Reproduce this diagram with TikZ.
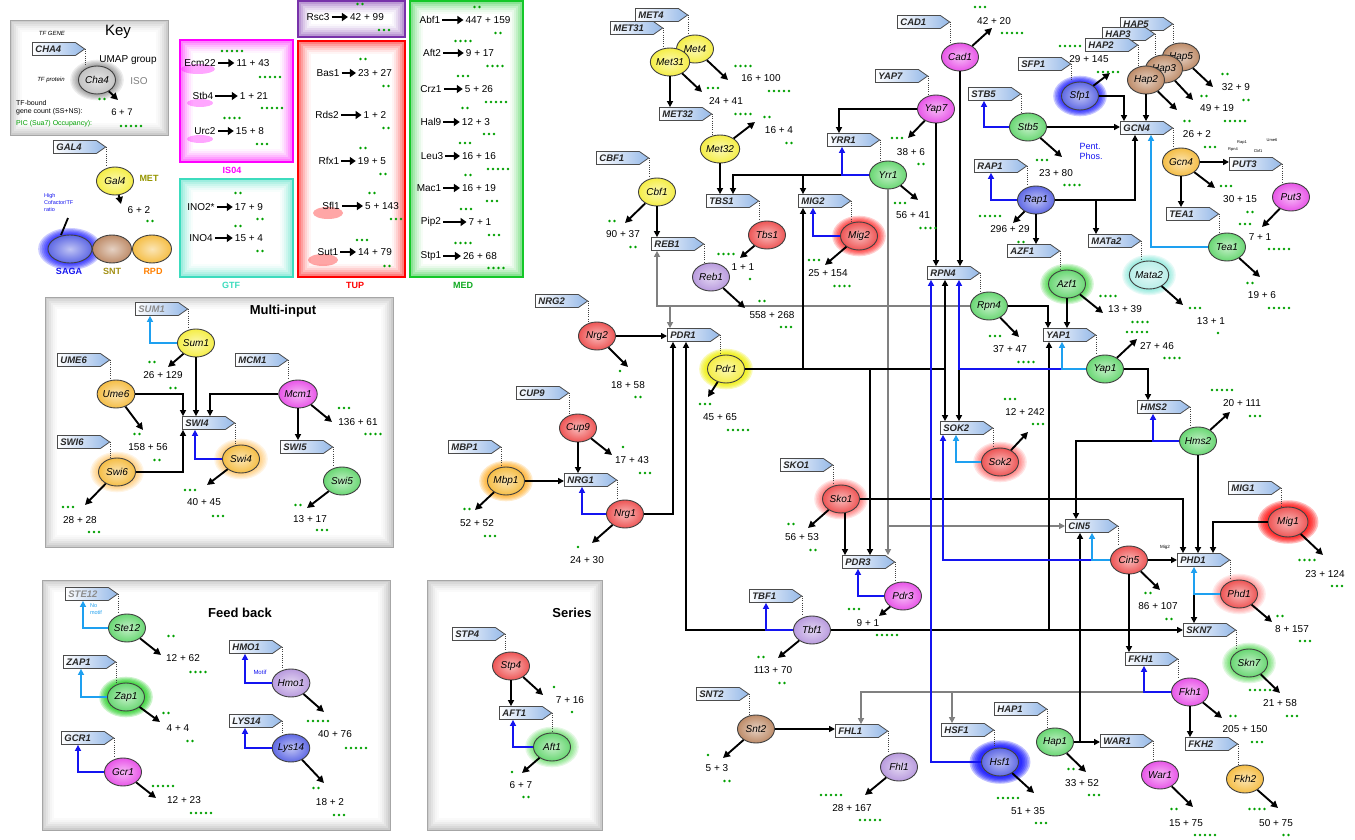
\documentclass[tikz,border=0pt]{standalone}
\usepackage{fontspec}
\setmainfont{Liberation Sans}
\usetikzlibrary{shapes.symbols,shapes.geometric,arrows.meta}
\definecolor{tagblue}{RGB}{150,185,232}
\definecolor{cY}{RGB}{245,238,70}
\definecolor{cR}{RGB}{238,85,85}
\definecolor{cG}{RGB}{105,215,115}
\definecolor{cM}{RGB}{232,85,232}
\definecolor{cP}{RGB}{185,155,222}
\definecolor{cB}{RGB}{95,105,228}
\definecolor{cBr}{RGB}{190,140,105}
\definecolor{cO}{RGB}{245,190,70}
\definecolor{cT}{RGB}{185,238,232}
\definecolor{cK}{RGB}{195,195,195}
\definecolor{lblue}{RGB}{20,20,240}
\definecolor{lcyan}{RGB}{30,160,240}
\definecolor{lgrey}{RGB}{128,128,128}
\definecolor{dotg}{RGB}{0,160,0}
\definecolor{boxmag}{RGB}{255,0,255}
\definecolor{boxteal}{RGB}{60,220,190}
\definecolor{boxred}{RGB}{255,0,0}
\definecolor{boxgreen}{RGB}{20,200,40}
\definecolor{boxpur}{RGB}{120,50,170}
\definecolor{olivet}{RGB}{150,150,0}
\definecolor{gR}{RGB}{255,0,0}
\definecolor{gB}{RGB}{0,0,255}
\definecolor{gG}{RGB}{0,200,0}
\definecolor{gO}{RGB}{255,160,0}
\definecolor{gY}{RGB}{240,240,0}
\definecolor{gT}{RGB}{90,225,205}
\newcommand\gd[3]{\foreach \kk in {1,...,#3}{\fill[dotg] ({#1+(\kk-(#3+1)/2)*5},#2) circle (1.3pt);}}
\newcommand\glow[6]{\foreach \ss in {1.05,1.13,1.21,1.29,1.37,1.45}{\fill[#3,opacity=#4] (#1,#2) circle[x radius={#5*\ss*1pt}, y radius={#6*\ss*1pt}];}}
\newcommand\gpanel[4]{\foreach \ii/\pp in {0/20,2/15,4/11,6/7,8/4,10/2,12/0}{\fill[black!\pp] ({#1+\ii},{#2+\ii}) rectangle ({#3-\ii},{#4-\ii});}\draw[black!35,line width=0.8pt] (#1,#2) rectangle (#3,#4);}
\newcommand\cbox[5]{\foreach \ii/\pp in {1/50,3/38,5/27,7/18,9/10,11/4,13/0}{\fill[#5!\pp!white] ({#1+\ii},{#2+\ii}) rectangle ({#3-\ii},{#4-\ii});}\draw[#5,line width=2.6pt] (#1,#2) rectangle (#3,#4);}
\newcommand\outp[3]{\coordinate (o#1) at (#2,#3); \draw[outa] (#1) -- (o#1);}
\newcommand\nm[4]{\node[numf] (#1) at (#2,#3) {#4};}
\newcommand\brow[6]{\node[boxt] (#1a) at (#2,#4) {#5}; \node[boxt] (#1b) at (#3,#4) {#6}; \draw[barrow] (#1a) -- (#1b);}
\newcommand\dl[2]{\draw[dotl] (#1.east) -- (#1.east |- #2.north);}
\tikzset{
 tag/.style={signal, signal to=east, signal pointer angle=70, draw=black!70, line width=0.8pt, left color=white, right color=tagblue, minimum height=13pt, text width=37pt, inner xsep=3pt, inner ysep=0pt, align=left, anchor=west, text=black!85, font=\fontsize{9.5}{9.5}\selectfont\bfseries\itshape},
 tf/.style={ellipse, draw=black!75, line width=0.9pt, minimum width=37pt, minimum height=28pt, inner sep=0pt, inner color=#1!40!white, outer color=#1, font=\fontsize{10}{10}\selectfont\itshape},
 numf/.style={font=\fontsize{10}{10}\selectfont, inner sep=0.5pt},
 boxt/.style={font=\fontsize{10}{10}\selectfont, inner sep=1pt},
 blk/.style={draw=black, line width=1.6pt, -{Triangle[length=6pt,width=6pt]}},
 ln/.style={draw=black, line width=1.6pt},
 blu/.style={draw=lblue, line width=1.6pt, -{Triangle[length=6pt,width=6pt]}},
 bln/.style={draw=lblue, line width=1.6pt},
 cya/.style={draw=lcyan, line width=1.6pt, -{Triangle[length=6pt,width=6pt]}},
 gry/.style={draw=lgrey, line width=1.4pt, -{Triangle[length=6pt,width=6pt]}},
 grn/.style={draw=lgrey, line width=1.4pt},
 outa/.style={draw=black, line width=1.9pt, -{Triangle[length=7pt,width=7pt]}},
 dotl/.style={draw=black!75, line width=1pt, dash pattern=on 1pt off 1.2pt},
 barrow/.style={draw=black, line width=2.2pt, -{Triangle[length=6pt,width=8pt]}, shorten <=1pt, shorten >=1pt},
 ttl/.style={font=\fontsize{13}{13}\selectfont\bfseries},
 blab/.style={font=\fontsize{9}{9}\selectfont\bfseries}
}
\begin{document}
\begin{tikzpicture}[x=1pt,y=-1pt]
\useasboundingbox (0,0) rectangle (1355,840);
\fill[white] (0,0) rectangle (1355,840);
% ---------- panels
\gpanel{10}{20}{168}{135}
\gpanel{45}{297}{393}{547}
\gpanel{42}{580}{390}{830}
\gpanel{427}{580}{602}{830}
\cbox{298}{1}{405}{37}{boxpur}
\cbox{180}{40}{293}{162}{boxmag}
\cbox{180}{179}{293}{277}{boxteal}
\cbox{298}{41}{405}{277}{boxred}
\cbox{410}{1}{523}{277}{boxgreen}
\fill[boxmag,opacity=0.35] (198,69) ellipse [x radius=17pt, y radius=5pt];
\fill[boxmag,opacity=0.35] (200,103) ellipse [x radius=13pt, y radius=4pt];
\fill[boxmag,opacity=0.35] (200,139) ellipse [x radius=13pt, y radius=4pt];
\fill[boxred,opacity=0.35] (328,213) ellipse [x radius=15pt, y radius=6pt];
\fill[boxred,opacity=0.35] (323,260) ellipse [x radius=15pt, y radius=6pt];
\node[blab, text=boxmag] (lIS) at (232,170) {IS04};
\node[blab, text=boxteal] (lGTF) at (231,285) {GTF};
\node[blab, text=boxred] (lTUP) at (355,285) {TUP};
\node[blab, text=boxgreen!85!black] (lMED) at (463,285) {MED};
% ---------- box rows
\brow{bRsc}{318}{367}{17}{Rsc3}{42 + 99}
\gd{360}{4}{2}\gd{384}{30}{3}
\brow{bEcm}{200}{253}{63}{Ecm22}{11 + 43}
\brow{bStb}{203}{254}{96}{Stb4}{1 + 21}
\brow{bUrc}{205}{250}{131}{Urc2}{15 + 8}
\gd{232}{51}{5}\gd{270}{77}{5}\gd{272}{108}{5}\gd{232}{118}{4}\gd{262}{144}{3}
\brow{bIno2}{201}{249}{207}{INO2*}{17 + 9}
\brow{bIno4}{201}{249}{238}{INO4}{15 + 4}
\gd{238}{193}{2}\gd{260}{219}{2}\gd{238}{226}{2}\gd{260}{251}{2}
\brow{bBas}{328}{375}{73}{Bas1}{23 + 27}
\brow{bRds}{327}{375}{115}{Rds2}{1 + 2}
\brow{bRfx}{329}{372}{161}{Rfx1}{19 + 5}
\brow{bSfl}{331}{382}{206}{Sfl1}{5 + 143}
\brow{bSut}{328}{375}{252}{Sut1}{14 + 79}
\gd{363}{59}{2}\gd{386}{86}{2}\gd{386}{128}{2}\gd{363}{148}{2}\gd{383}{174}{2}\gd{372}{193}{2}\gd{396}{219}{3}\gd{362}{240}{3}\gd{387}{266}{2}
\brow{bAbf}{430}{488}{20}{Abf1}{447 + 159}
\brow{bAft2}{432}{480}{53}{Aft2}{9 + 17}
\brow{bCrz}{431}{479}{89}{Crz1}{5 + 26}
\brow{bHal}{431}{476}{122}{Hal9}{12 + 3}
\brow{bLeu}{432}{479}{156}{Leu3}{16 + 16}
\brow{bMac}{429}{479}{188}{Mac1}{16 + 19}
\brow{bPip}{431}{480}{222}{Pip2}{7 + 1}
\brow{bStp1}{431}{480}{256}{Stp1}{26 + 68}
\gd{477}{7}{2}\gd{498}{33}{2}\gd{463}{41}{4}\gd{495}{66}{4}\gd{463}{76}{3}\gd{496}{102}{5}\gd{465}{108}{2}\gd{489}{134}{3}\gd{465}{143}{3}\gd{498}{169}{5}\gd{468}{175}{2}\gd{492}{201}{3}\gd{466}{209}{3}\gd{494}{235}{3}\gd{463}{243}{4}\gd{496}{268}{4}
% ---------- glows
\glow{97}{80}{black}{0.07}{18.5}{14}
\glow{70}{249}{gB}{0.2}{22}{14.5}
\glow{241}{459}{gO}{0.1}{18.5}{14}
\glow{117}{472}{gO}{0.1}{18.5}{14}
\glow{126}{697}{gG}{0.2}{18.5}{14}
\glow{552}{747}{gG}{0.1}{18.5}{14}
\glow{859}{236}{gR}{0.18}{18.5}{14}
\glow{1080}{96}{gB}{0.22}{18.5}{14}
\glow{1067}{284}{gG}{0.15}{18.5}{14}
\glow{1149}{275}{gT}{0.15}{18.5}{14}
\glow{726}{369}{gY}{0.28}{18.5}{14}
\glow{506}{481}{gO}{0.2}{18.5}{14}
\glow{841}{499}{gR}{0.1}{18.5}{14}
\glow{1000}{462}{gR}{0.1}{18.5}{14}
\glow{1288}{522}{gR}{0.25}{21}{15}
\glow{1239}{594}{gR}{0.08}{18.5}{14}
\glow{1249}{663}{gG}{0.12}{18.5}{14}
\glow{1000}{762}{gB}{0.25}{21}{15}
% ---------- key
\node[font=\fontsize{6}{6}\selectfont\itshape] (kTFG) at (52,33) {TF GENE};
\node[font=\fontsize{15}{15}\selectfont] (kKey) at (118,32) {Key};
\node[tag] (CHA4) at (32,49) {CHA4};
\node[tf=cK] (Cha4) at (97,80) {Cha4};
\dl{CHA4}{Cha4}
\node[font=\fontsize{10}{10}\selectfont] (kUMAP) at (128,60) {UMAP group};
\node[font=\fontsize{10}{10}\selectfont, text=black!50] (kISO) at (139,81) {ISO};
\node[font=\fontsize{6}{6}\selectfont\itshape] (kTFp) at (51,80) {TF protein};
\outp{Cha4}{118}{100}
\gd{102}{99}{2}
\node[font=\fontsize{7}{8}\selectfont, anchor=west, align=left, inner sep=0pt] (kTFb) at (16,108) {TF-bound\\gene count (SS+NS):};
\node[font=\fontsize{9.5}{9.5}\selectfont] (k67) at (122,112) {6 + 7};
\node[font=\fontsize{7}{7}\selectfont, text=dotg, anchor=west, inner sep=0pt] (kPIC) at (16,124) {PIC (Sua7) Occupancy):};
\gd{131}{126}{5}
\node[tag] (GAL4) at (53,147) {GAL4};
\node[tf=cY] (Gal4) at (115,181) {Gal4};
\dl{GAL4}{Gal4}
\node[font=\fontsize{9}{9}\selectfont\bfseries, text=olivet] (kMET) at (149,178) {MET};
\outp{Gal4}{121}{204}
\nm{nGal4}{139}{210}{6 + 2}
\gd{150}{221}{2}
\node[font=\fontsize{5.5}{7}\selectfont, text=lblue, align=left, anchor=north west, inner sep=0pt] (kHigh) at (44,193) {High\\Cofactor/TF\\ratio};
\draw[line width=1.8pt] (68,218) -- (61,235);
\node[tf=cB, minimum width=44pt] (kSAGA) at (70,249) {};
\node[tf=cBr, minimum width=39pt] (kSNT) at (112,249) {};
\node[tf=cO, minimum width=39pt] (kRPD) at (152,249) {};
\node[blab, text=lblue] (kSAGAl) at (69,271) {SAGA};
\node[blab, text=olivet!70!brown] (kSNTl) at (112,271) {SNT};
\node[blab, text=orange] (kRPDl) at (153,271) {RPD};
% ---------- multi-input
\node[ttl] (tMI) at (283,311) {Multi-input};
\node[tag, text=black!45] (SUM1) at (135,309) {SUM1};
\node[tf=cY] (Sum1) at (196,343) {Sum1};
\node[tag] (UME6) at (57,360) {UME6};
\node[tf=cO] (Ume6) at (116,394) {Ume6};
\node[tag] (MCM1) at (235,360) {MCM1};
\node[tf=cM] (Mcm1) at (298,394) {Mcm1};
\node[tag] (SWI4) at (182,423) {SWI4};
\node[tf=cO] (Swi4) at (241,459) {Swi4};
\node[tag] (SWI5) at (280,447) {SWI5};
\node[tf=cG] (Swi5) at (342,481) {Swi5};
\node[tag] (SWI6) at (57,442) {SWI6};
\node[tf=cO] (Swi6) at (117,472) {Swi6};
\dl{SUM1}{Sum1}\dl{UME6}{Ume6}\dl{MCM1}{Mcm1}\dl{SWI4}{Swi4}\dl{SWI5}{Swi5}\dl{SWI6}{Swi6}
\draw[cya] (Sum1.west) -| ([xshift=15pt]SUM1.south west);
\draw[blk] (Sum1.south) -- (Sum1.south |- SWI4.north);
\draw[blk] (Ume6.east) -| ([xshift=1pt]SWI4.north west);
\draw[blk] (Mcm1.west) -| ([xshift=28pt]SWI4.north west);
\draw[blk] (Mcm1.south) -- (Mcm1.south |- SWI5.north);
\draw[blk] (Swi6.east) -| ([xshift=1pt]SWI4.south west);
\draw[blu] (Swi4.west) -| ([xshift=13pt]SWI4.south west);
\outp{Sum1}{168}{367}\outp{Ume6}{143}{430}\outp{Mcm1}{332}{422}\outp{Swi5}{307}{508}\outp{Swi4}{207}{485}\outp{Swi6}{85}{505}
\nm{nSum1}{163}{375}{26 + 129}\gd{152}{362}{2}\gd{173}{388}{2}
\nm{nUme6}{148}{447}{158 + 56}\gd{137}{434}{2}\gd{157}{460}{2}
\nm{nMcm1}{358}{422}{136 + 61}\gd{344}{408}{3}\gd{373}{434}{4}
\nm{nSwi5}{310}{519}{13 + 17}\gd{298}{505}{2}\gd{322}{530}{3}
\nm{nSwi4}{204}{502}{40 + 45}\gd{190}{490}{3}\gd{218}{516}{3}
\nm{nSwi6}{80}{520}{28 + 28}\gd{68}{507}{3}\gd{94}{532}{3}
% ---------- feedback
\node[ttl] (tFB) at (240,613) {Feed back};
\node[tag, text=black!45] (STE12) at (65,594) {STE12};
\node[tf=cG] (Ste12) at (127,628) {Ste12};
\node[tag] (ZAP1) at (63,662) {ZAP1};
\node[tf=cG] (Zap1) at (126,697) {Zap1};
\node[tag] (GCR1) at (61,738) {GCR1};
\node[tf=cM] (Gcr1) at (123,772) {Gcr1};
\node[tag] (HMO1) at (229,647) {HMO1};
\node[tf=cP] (Hmo1) at (291,683) {Hmo1};
\node[tag] (LYS14) at (229,721) {LYS14};
\node[tf=cB] (Lys14) at (291,748) {Lys14};
\dl{STE12}{Ste12}\dl{ZAP1}{Zap1}\dl{GCR1}{Gcr1}\dl{HMO1}{Hmo1}\dl{LYS14}{Lys14}
\draw[cya] (Ste12.west) -| ([xshift=18pt]STE12.south west);
\draw[cya] (Zap1.west) -| ([xshift=18pt]ZAP1.south west);
\draw[blu] (Gcr1.west) -| ([xshift=17pt]GCR1.south west);
\draw[blu] (Hmo1.west) -| ([xshift=16pt]HMO1.south west);
\draw[blu] (Lys14.west) -| ([xshift=16pt]LYS14.south west);
\node[font=\fontsize{5.5}{6.5}\selectfont, text=lcyan, align=left, inner sep=0pt] (tNo) at (96,609) {No\\motif};
\node[font=\fontsize{6}{6}\selectfont, text=lblue, inner sep=0pt] (tMotif) at (260,672) {Motif};
\outp{Ste12}{161}{655}\outp{Zap1}{160}{722}\outp{Gcr1}{156}{798}\outp{Hmo1}{324}{712}\outp{Lys14}{324}{783}
\nm{nSte12}{183}{658}{12 + 62}\gd{171}{636}{2}\gd{198}{672}{4}
\nm{nZap1}{178}{728}{4 + 4}\gd{166}{713}{2}\gd{190}{741}{2}
\nm{nGcr1}{184}{800}{12 + 23}\gd{163}{786}{5}\gd{201}{813}{5}
\nm{nHmo1}{335}{734}{40 + 76}\gd{318}{721}{5}\gd{356}{748}{5}
\nm{nLys14}{330}{802}{18 + 2}\gd{316}{788}{2}\gd{339}{815}{3}
% ---------- series
\node[ttl] (tSe) at (572,613) {Series};
\node[tag] (STP4) at (452,634) {STP4};
\node[tf=cR] (Stp4) at (511,666) {Stp4};
\node[tag] (AFT1) at (499,713) {AFT1};
\node[tf=cG] (Aft1) at (552,747) {Aft1};
\dl{STP4}{Stp4}\dl{AFT1}{Aft1}
\draw[blk] (Stp4.south) -- (Stp4.south |- AFT1.north);
\draw[blu] (Aft1.west) -| ([xshift=14pt]AFT1.south west);
\outp{Stp4}{543}{695}\outp{Aft1}{522}{773}
\nm{nStp4}{570}{700}{7 + 16}\gd{554}{687}{1}\gd{572}{712}{1}
\nm{nAft1}{521}{785}{6 + 7}\gd{512}{772}{1}\gd{526}{797}{2}
% ---------- network tags
\node[tag] (MET4) at (635,15) {MET4};
\node[tag] (MET31) at (610,28) {MET31};
\node[tag] (MET32) at (659,114) {MET32};
\node[tag] (CBF1) at (596,158) {CBF1};
\node[tag] (REB1) at (651,244) {REB1};
\node[tag] (TBS1) at (706,201) {TBS1};
\node[tag] (MIG2) at (798,201) {MIG2};
\node[tag] (YRR1) at (827,140) {YRR1};
\node[tag] (YAP7) at (875,76) {YAP7};
\node[tag] (CAD1) at (897,22) {CAD1};
\node[tag] (RPN4) at (927,273) {RPN4};
\node[tag] (STB5) at (968,94) {STB5};
\node[tag] (SFP1) at (1018,64) {SFP1};
\node[tag] (HAP5) at (1120,24) {HAP5};
\node[tag] (HAP3) at (1102,34) {HAP3};
\node[tag] (HAP2) at (1085,45) {HAP2};
\node[tag] (GCN4) at (1120,128) {GCN4};
\node[tag] (PUT3) at (1229,164) {PUT3};
\node[tag] (TEA1) at (1166,214) {TEA1};
\node[tag] (RAP1) at (974,166) {RAP1};
\node[tag] (AZF1) at (1007,251) {AZF1};
\node[tag] (MATa2) at (1088,241) {MATa2};
\node[tag] (NRG2) at (535,301) {NRG2};
\node[tag] (PDR1) at (667,335) {PDR1};
\node[tag] (CUP9) at (516,393) {CUP9};
\node[tag] (MBP1) at (448,447) {MBP1};
\node[tag] (NRG1) at (564,480) {NRG1};
\node[tag] (YAP1) at (1043,335) {YAP1};
\node[tag] (SOK2) at (940,428) {SOK2};
\node[tag] (HMS2) at (1137,407) {HMS2};
\node[tag] (SKO1) at (780,465) {SKO1};
\node[tag] (CIN5) at (1065,526) {CIN5};
\node[tag] (MIG1) at (1228,488) {MIG1};
\node[tag] (PHD1) at (1177,560) {PHD1};
\node[tag] (PDR3) at (842,562) {PDR3};
\node[tag] (TBF1) at (749,596) {TBF1};
\node[tag] (SKN7) at (1183,630) {SKN7};
\node[tag] (FKH1) at (1125,659) {FKH1};
\node[tag] (SNT2) at (696,694) {SNT2};
\node[tag] (HAP1) at (994,709) {HAP1};
\node[tag] (FHL1) at (835,731) {FHL1};
\node[tag] (HSF1) at (941,730) {HSF1};
\node[tag] (WAR1) at (1100,741) {WAR1};
\node[tag] (FKH2) at (1185,744) {FKH2};
% ---------- network TFs
\node[tf=cY] (Met4) at (695,49) {Met4};
\node[tf=cY] (Met31) at (670,62) {Met31};
\node[tf=cY] (Met32) at (720,149) {Met32};
\node[tf=cY] (Cbf1) at (657,192) {Cbf1};
\node[tf=cP] (Reb1) at (711,277) {Reb1};
\node[tf=cR] (Tbs1) at (767,235) {Tbs1};
\node[tf=cR] (Mig2) at (859,236) {Mig2};
\node[tf=cG] (Yrr1) at (888,175) {Yrr1};
\node[tf=cM] (Yap7) at (936,109) {Yap7};
\node[tf=cM] (Cad1) at (960,57) {Cad1};
\node[tf=cG] (Rpn4) at (989,306) {Rpn4};
\node[tf=cG] (Stb5) at (1028,127) {Stb5};
\node[tf=cB] (Sfp1) at (1080,96) {Sfp1};
\node[tf=cBr] (Hap5) at (1181,57) {Hap5};
\node[tf=cBr] (Hap3) at (1164,69) {Hap3};
\node[tf=cBr] (Hap2) at (1146,80) {Hap2};
\node[tf=cO] (Gcn4) at (1181,162) {Gcn4};
\node[tf=cM] (Put3) at (1291,197) {Put3};
\node[tf=cG] (Tea1) at (1227,247) {Tea1};
\node[tf=cB] (Rap1) at (1036,200) {Rap1};
\node[tf=cG] (Azf1) at (1067,284) {Azf1};
\node[tf=cT] (Mata2) at (1149,275) {Mata2};
\node[tf=cR] (Nrg2) at (597,336) {Nrg2};
\node[tf=cY] (Pdr1) at (726,369) {Pdr1};
\node[tf=cR] (Cup9) at (578,428) {Cup9};
\node[tf=cO] (Mbp1) at (506,481) {Mbp1};
\node[tf=cR] (Nrg1) at (625,514) {Nrg1};
\node[tf=cG] (Yap1) at (1105,369) {Yap1};
\node[tf=cR] (Sok2) at (1000,462) {Sok2};
\node[tf=cG] (Hms2) at (1198,441) {Hms2};
\node[tf=cR] (Sko1) at (841,499) {Sko1};
\node[tf=cR] (Cin5) at (1129,560) {Cin5};
\node[tf=cR, minimum width=40pt, minimum height=30pt] (Mig1) at (1288,522) {Mig1};
\node[tf=cR] (Phd1) at (1239,594) {Phd1};
\node[tf=cM] (Pdr3) at (903,596) {Pdr3};
\node[tf=cP] (Tbf1) at (812,630) {Tbf1};
\node[tf=cG] (Skn7) at (1249,663) {Skn7};
\node[tf=cM] (Fkh1) at (1190,692) {Fkh1};
\node[tf=cBr] (Snt2) at (756,729) {Snt2};
\node[tf=cG] (Hap1) at (1055,742) {Hap1};
\node[tf=cP] (Fhl1) at (899,767) {Fhl1};
\node[tf=cB] (Hsf1) at (1000,762) {Hsf1};
\node[tf=cM] (War1) at (1160,775) {War1};
\node[tf=cO] (Fkh2) at (1245,779) {Fkh2};
% dotted tag-protein links
\dl{MET4}{Met4}\dl{MET31}{Met31}\dl{MET32}{Met32}\dl{CBF1}{Cbf1}\dl{REB1}{Reb1}\dl{TBS1}{Tbs1}\dl{MIG2}{Mig2}\dl{YRR1}{Yrr1}\dl{YAP7}{Yap7}\dl{CAD1}{Cad1}\dl{RPN4}{Rpn4}\dl{STB5}{Stb5}\dl{SFP1}{Sfp1}\dl{HAP5}{Hap5}\dl{HAP3}{Hap3}\dl{HAP2}{Hap2}\dl{GCN4}{Gcn4}\dl{PUT3}{Put3}\dl{TEA1}{Tea1}\dl{RAP1}{Rap1}\dl{AZF1}{Azf1}\dl{MATa2}{Mata2}\dl{NRG2}{Nrg2}\dl{PDR1}{Pdr1}\dl{CUP9}{Cup9}\dl{MBP1}{Mbp1}\dl{NRG1}{Nrg1}\dl{YAP1}{Yap1}\dl{SOK2}{Sok2}\dl{HMS2}{Hms2}\dl{SKO1}{Sko1}\dl{CIN5}{Cin5}\dl{MIG1}{Mig1}\dl{PHD1}{Phd1}\dl{PDR3}{Pdr3}\dl{TBF1}{Tbf1}\dl{SKN7}{Skn7}\dl{FKH1}{Fkh1}\dl{SNT2}{Snt2}\dl{HAP1}{Hap1}\dl{FHL1}{Fhl1}\dl{HSF1}{Hsf1}\dl{WAR1}{War1}\dl{FKH2}{Fkh2}
% ---------- grey connectors
\draw[gry] (Rpn4.west) -| ([xshift=6pt]REB1.south west);
\draw[gry] ([xshift=3pt]PDR1.north west |- Rpn4.west) -- ([xshift=3pt]PDR1.north west);
\draw[gry] (Yrr1.south) -- (Yrr1.south |- PDR3.north);
\draw[gry] ([xshift=46pt]PDR3.north west |- CIN5.west) -- (CIN5.west);
\draw[gry] ([xshift=19pt]FKH1.south west |- Fkh1.west) -| ([xshift=26pt]FHL1.north west);
\draw[gry] ([xshift=11pt]HSF1.north west |- Fkh1.west) -- ([xshift=11pt]HSF1.north west);
% ---------- black connectors
\draw[blk] (Met31.south) -- (Met31.south |- MET32.north);
\draw[blk] (Met32.south) -- (Met32.south |- TBS1.north);
\draw[blk] (Cbf1.south) -- (Cbf1.south |- REB1.north);
\draw[blk] ([xshift=15pt]YRR1.south west |- Yrr1.west) -| ([xshift=27pt]TBS1.north west);
\draw[blk] ([xshift=5pt]MIG2.north west |- Yrr1.west) -- ([xshift=5pt]MIG2.north west);
\draw[blk] (Yap7.west) -| ([xshift=12pt]YRR1.north west);
\draw[blk] (Yap7.south) -- (Yap7.south |- RPN4.north);
\draw[blk] (Cad1.south) -- (Cad1.south |- RPN4.north);
\draw[blk] (Stb5.east) -- (Stb5.east -| GCN4.west);
\draw[blk] (Sfp1.east) -| ([xshift=4pt]GCN4.north west);
\draw[blk] (Hap2.south) -- (Hap2.south |- GCN4.north);
\draw[blk] (Rap1.east) -| ([xshift=15pt]GCN4.south west);
\draw[blk] ([xshift=8pt]MATa2.north west |- Rap1.east) -- ([xshift=8pt]MATa2.north west);
\draw[blk] (Rap1.south) -- (Rap1.south |- AZF1.north);
\draw[blk] (Gcn4.east) -- (Gcn4.east -| PUT3.west);
\draw[blk] (Gcn4.south) -- (Gcn4.south |- TEA1.north);
\draw[blk] (Azf1.south) -- (Azf1.south |- YAP1.north);
\draw[blk] (Rpn4.east) -| ([xshift=5pt]YAP1.north west);
\draw[blk] (Yap1.east) -| ([xshift=11pt]HMS2.north west);
\draw[blk] (Hms2.south) -- (Hms2.south |- PHD1.north);
\draw[blk] ([xshift=16pt]HMS2.south west |- Hms2.west) -| ([xshift=11pt]CIN5.north west);
\draw[blk] (Mig1.west) -| ([xshift=36pt]PHD1.north west);
\draw[blk] (Sko1.east) -| ([xshift=6pt]PHD1.north west);
\draw[blk] (Cin5.east) -- (Cin5.east -| PHD1.west);
\draw[blk] (Cin5.south) -- (Cin5.south |- FKH1.north);
\draw[blk] ([xshift=17pt]PHD1.south west |- Phd1.west) -- ([xshift=11pt]SKN7.north west);
\draw[blk] (Tbf1.east) -- (Tbf1.east -| SKN7.west);
\draw[blk] ([xshift=17pt]TBF1.south west |- Tbf1.west) -| ([xshift=19pt]PDR1.south west);
\draw[blk] ([xshift=6pt]YAP1.south west |- Tbf1.east) -- ([xshift=6pt]YAP1.south west);
\draw[blk] (Fkh1.south) -- (Fkh1.south |- FKH2.north);
\draw[blk, line width=2.2pt] (Snt2.east) -- (Snt2.east -| FHL1.west);
\draw[blk] (Hap1.east) -- (Hap1.east -| WAR1.west);
\draw[blk] ([xshift=15pt]CIN5.south west |- Hap1.east) -- ([xshift=15pt]CIN5.south west);
\draw[blk] (Nrg2.east) -- (Nrg2.east -| PDR1.west);
\draw[blk] (Nrg1.east) -| ([xshift=6pt]PDR1.south west);
\draw[blk] (Cup9.south) -- (Cup9.south |- NRG1.north);
\draw[blk] (Mbp1.east) -- (Mbp1.east -| NRG1.west);
\draw[ln] (Pdr1.east) -- ([xshift=18pt]RPN4.south west |- Pdr1.east);
\draw[blk] ([xshift=18pt]RPN4.south west |- Pdr1.east) -- ([xshift=18pt]RPN4.south west);
\draw[blk] ([xshift=5pt]SOK2.north west |- Pdr1.east) -- ([xshift=5pt]SOK2.north west);
\draw[blk] ([xshift=5pt]MIG2.south west |- Pdr1.east) -- ([xshift=5pt]MIG2.south west);
\draw[blk] ([xshift=28pt]PDR3.north west |- Pdr1.east) -- ([xshift=28pt]PDR3.north west);
\draw[blk] ([xshift=3pt]PDR3.north west |- Sko1.south) -- ([xshift=3pt]PDR3.north west);
\draw[blk] ([xshift=32pt]RPN4.south west |- Yap1.west) -- ([xshift=19pt]SOK2.north west);
% ---------- blue / cyan connectors
\draw[blu] (Mig2.west) -| ([xshift=15pt]MIG2.south west);
\draw[blu] (Yrr1.west) -| ([xshift=15pt]YRR1.south west);
\draw[blu] (Stb5.west) -| ([xshift=16pt]STB5.south west);
\draw[blu] (Rap1.west) -| ([xshift=17pt]RAP1.south west);
\draw[blu] ([xshift=19pt]YAP1.south west |- Yap1.west) -| ([xshift=32pt]RPN4.south west);
\draw[blu] (Hsf1.west) -| ([xshift=4pt]RPN4.south west);
\draw[blu] ([xshift=27pt]CIN5.south west |- Cin5.west) -| ([xshift=3pt]SOK2.south west);
\draw[blu] (Hms2.west) -| ([xshift=16pt]HMS2.south west);
\draw[blu] (Fkh1.west) -| ([xshift=19pt]FKH1.south west);
\draw[blu] (Tbf1.west) -| ([xshift=17pt]TBF1.south west);
\draw[blu] (Pdr3.west) -| ([xshift=16pt]PDR3.south west);
\draw[blu] (Nrg1.west) -| ([xshift=18pt]NRG1.south west);
\draw[cya] (Yap1.west) -| ([xshift=19pt]YAP1.south west);
\draw[cya] (Sok2.west) -| ([xshift=16pt]SOK2.south west);
\draw[cya] (Cin5.west) -| ([xshift=27pt]CIN5.south west);
\draw[cya] (Phd1.west) -| ([xshift=17pt]PHD1.south west);
\draw[cya] (Tea1.west) -| ([xshift=31pt]GCN4.south west);
% ---------- small labels
\node[font=\fontsize{9}{10}\selectfont, text=lblue, align=left, inner sep=0pt] (tPent) at (1091,151) {Pent.\\Phos.};
\node[font=\fontsize{4.5}{4.5}\selectfont, inner sep=0pt] (tMig2s) at (1165,547) {Mig2};
\node[font=\fontsize{4}{4}\selectfont, inner sep=0pt] (tRap1s) at (1242,143) {Rap1};
\node[font=\fontsize{4}{4}\selectfont, inner sep=0pt] (tUme6s) at (1272,140) {Ume6};
\node[font=\fontsize{4}{4}\selectfont, inner sep=0pt] (tRpn4s) at (1233,150) {Rpn4};
\node[font=\fontsize{4}{4}\selectfont, inner sep=0pt] (tCbf1s) at (1258,151) {Cbf1};
% ---------- outputs
\outp{Met4}{728}{80}\outp{Met31}{702}{92}\outp{Met32}{755}{122}\outp{Cbf1}{625}{223}\outp{Reb1}{745}{308}\outp{Tbs1}{740}{258}\outp{Mig2}{825}{265}\outp{Yrr1}{918}{200}\outp{Yap7}{908}{138}\outp{Cad1}{992}{28}\outp{Rpn4}{1019}{337}\outp{Stb5}{1062}{157}\outp{Sfp1}{1110}{73}\outp{Hap2}{1177}{110}\outp{Hap3}{1193}{100}\outp{Hap5}{1213}{87}\outp{Gcn4}{1215}{188}\outp{Put3}{1262}{227}\outp{Tea1}{1260}{277}\outp{Rap1}{1013}{223}\outp{Azf1}{1103}{313}\outp{Mata2}{1183}{305}\outp{Nrg2}{628}{367}\outp{Pdr1}{708}{397}\outp{Cup9}{612}{455}\outp{Mbp1}{475}{510}\outp{Nrg1}{592}{543}\outp{Yap1}{1137}{339}\outp{Sok2}{1028}{432}\outp{Hms2}{1230}{412}\outp{Sko1}{808}{528}\outp{Cin5}{1160}{590}\outp{Mig1}{1323}{555}\outp{Phd1}{1272}{622}\outp{Pdr3}{879}{616}\outp{Tbf1}{778}{658}\outp{Skn7}{1280}{693}\outp{Fkh1}{1222}{718}\outp{Snt2}{723}{758}\outp{Hap1}{1086}{772}\outp{Fhl1}{865}{795}\outp{Hsf1}{1034}{793}\outp{War1}{1193}{807}\outp{Fkh2}{1278}{808}
% ---------- counts
\nm{nMet4}{761}{78}{16 + 100}\gd{743}{66}{4}\gd{779}{91}{5}
\nm{nMet31}{726}{101}{24 + 41}\gd{713}{88}{3}\gd{743}{114}{4}
\nm{nMet32}{779}{130}{16 + 4}\gd{767}{117}{2}\gd{789}{143}{2}
\nm{nCbf1}{623}{234}{90 + 37}\gd{612}{221}{2}\gd{633}{247}{2}
\nm{nReb1}{772}{315}{558 + 268}\gd{762}{301}{2}\gd{786}{327}{3}
\nm{nTbs1}{743}{267}{1 + 1}\gd{726}{254}{4}\gd{750}{279}{1}
\nm{nMig2}{828}{273}{25 + 154}\gd{814}{260}{3}\gd{842}{286}{4}
\nm{nYrr1}{913}{215}{56 + 41}\gd{900}{203}{3}\gd{928}{228}{4}
\nm{nYap7}{911}{152}{38 + 6}\gd{897}{138}{3}\gd{921}{164}{2}
\nm{nCad1}{994}{21}{42 + 20}\gd{980}{7}{3}\gd{1012}{33}{5}
\nm{nStb5}{1056}{173}{23 + 80}\gd{1042}{160}{3}\gd{1072}{185}{4}
\nm{nSfp1}{1089}{59}{29 + 145}\gd{1070}{46}{5}\gd{1108}{72}{5}
\nm{nHap2}{1197}{134}{26 + 2}\gd{1187}{121}{2}\gd{1210}{147}{3}
\nm{nHap3}{1217}{108}{49 + 19}\gd{1204}{96}{2}\gd{1235}{121}{5}
\nm{nHap5}{1236}{87}{32 + 9}\gd{1225}{74}{2}\gd{1246}{100}{2}
\nm{nGcn4}{1240}{199}{30 + 15}\gd{1226}{186}{3}\gd{1250}{212}{2}
\nm{nPut3}{1260}{237}{7 + 1}\gd{1245}{224}{3}\gd{1279}{249}{5}
\nm{nTea1}{1262}{295}{19 + 6}\gd{1250}{283}{2}\gd{1279}{308}{5}
\nm{nRap1}{1010}{229}{296 + 29}\gd{990}{216}{5}\gd{1021}{242}{2}
\nm{nAzf1}{1125}{309}{13 + 39}\gd{1108}{296}{4}\gd{1140}{322}{4}
\nm{nMata2}{1211}{321}{13 + 1}\gd{1195}{308}{3}\gd{1218}{333}{1}
\nm{nRpn4}{1010}{349}{37 + 47}\gd{995}{336}{3}\gd{1026}{362}{4}
\nm{nNrg2}{628}{385}{18 + 58}\gd{620}{371}{1}\gd{638}{397}{2}
\nm{nPdr1}{720}{417}{45 + 65}\gd{705}{404}{3}\gd{738}{430}{5}
\nm{nCup9}{632}{460}{17 + 43}\gd{623}{447}{1}\gd{645}{473}{3}
\nm{nMbp1}{477}{523}{52 + 52}\gd{467}{509}{2}\gd{490}{536}{3}
\nm{nNrg1}{587}{560}{24 + 30}\gd{578}{547}{1}
\nm{nYap1}{1157}{346}{27 + 46}\gd{1137}{332}{5}\gd{1172}{358}{4}
\nm{nSok2}{1025}{412}{12 + 242}\gd{1010}{399}{3}\gd{1038}{424}{3}
\nm{nHms2}{1242}{403}{20 + 111}\gd{1222}{390}{5}\gd{1255}{416}{3}
\nm{nSko1}{802}{537}{56 + 53}\gd{791}{524}{2}\gd{813}{550}{2}
\nm{nCin5}{1158}{606}{86 + 107}\gd{1148}{593}{2}\gd{1169}{619}{2}
\nm{nMig1}{1325}{574}{23 + 124}\gd{1307}{560}{4}\gd{1337}{586}{3}
\nm{nPhd1}{1292}{629}{8 + 157}\gd{1280}{616}{2}\gd{1305}{641}{3}
\nm{nPdr3}{868}{623}{9 + 1}\gd{854}{609}{3}\gd{887}{635}{5}
\nm{nTbf1}{773}{670}{113 + 70}\gd{761}{657}{2}\gd{782}{683}{2}
\nm{nSkn7}{1280}{703}{21 + 58}\gd{1260}{690}{5}\gd{1292}{716}{3}
\nm{nFkh1}{1245}{729}{205 + 150}\gd{1233}{716}{2}\gd{1257}{742}{3}
\nm{nSnt2}{717}{768}{5 + 3}\gd{708}{755}{1}\gd{727}{781}{2}
\nm{nHap1}{1082}{783}{33 + 52}\gd{1071}{769}{2}\gd{1094}{795}{3}
\nm{nFhl1}{852}{808}{28 + 167}\gd{831}{795}{5}\gd{870}{820}{5}
\nm{nHsf1}{1028}{811}{51 + 35}\gd{1008}{798}{5}\gd{1041}{823}{3}
\nm{nWar1}{1186}{823}{15 + 75}\gd{1174}{809}{2}\gd{1205}{835}{5}
\nm{nFkh2}{1276}{823}{50 + 75}\gd{1257}{809}{4}\gd{1286}{835}{2}
\end{tikzpicture}
\end{document}
